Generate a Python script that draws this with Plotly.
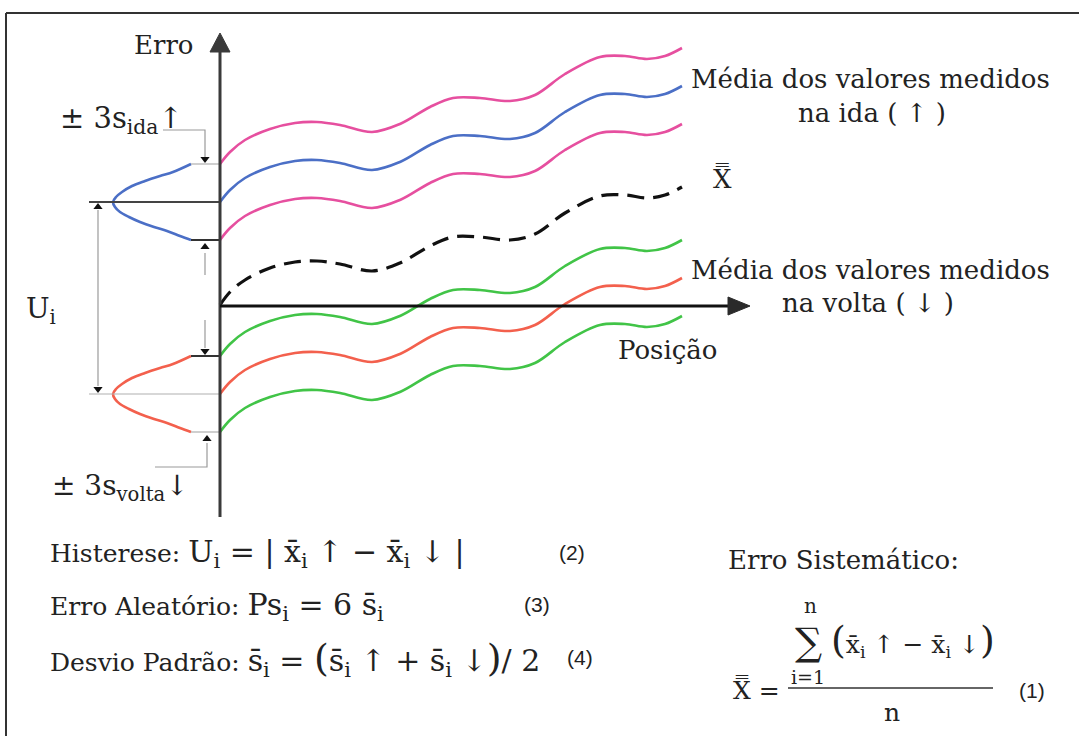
import plotly.graph_objects as go

W, H = 1079, 736
SERIF = "DejaVu Serif"
SANS = "Liberation Sans"
INK = "#222222"
GUIDE = "#9a9a9a"

# --- data: position along the stroke and error of each curve (origin at the axes crossing)
posicao = [0, 10, 25, 50, 75, 97, 120, 152, 180, 210, 233, 260, 290, 315, 345, 380, 405, 427, 445, 462]
ida_sup = [142, 154, 166, 177, 183, 184, 181, 174, 182, 199, 208, 208, 205, 211, 232, 249, 250, 247, 250, 258]
ida_media = [104, 116, 128, 139, 145, 146, 143, 136, 144, 161, 170, 170, 167, 173, 194, 211, 212, 209, 212, 220]
ida_inf = [66, 78, 90, 101, 107, 108, 105, 98, 106, 123, 132, 132, 129, 135, 156, 173, 174, 171, 174, 182]
erro_sist = [1, 14, 26, 38, 44, 45, 42, 35, 43, 60, 69, 69, 66, 72, 93, 110, 111, 108, 111, 119]
volta_sup = [-50, -38, -26, -15, -9, -8, -11, -18, -10, 7, 16, 16, 13, 19, 40, 57, 58, 55, 58, 66]
volta_media = [-88, -76, -64, -53, -47, -46, -49, -56, -48, -31, -22, -22, -25, -19, 2, 19, 20, 17, 20, 28]
volta_inf = [-126, -114, -102, -91, -85, -84, -87, -94, -86, -69, -60, -60, -63, -57, -36, -19, -18, -21, -18, -10]

# dispersion bells drawn sideways to the left of the error axis
sino_x = [-29, -47, -60, -75, -88, -98, -104, -107, -105, -100, -91, -80, -66, -53, -40, -29]
sino_ida_y = [142, 134, 130, 125, 120, 114, 109, 104, 99, 94, 89, 84, 79, 75, 70, 66]
sino_volta_y = [-50, -58, -62, -67, -72, -78, -83, -88, -93, -98, -103, -108, -113, -117, -122, -126]

PINK = "#e64f9f"
BLUE = "#4b6fc6"
GREEN = "#41c447"
RED = "#f3604d"

fig = go.Figure()


def curve(x, y, color, width=2.6, dash=None):
    fig.add_trace(go.Scatter(
        x=x, y=y, mode="lines",
        line=dict(color=color, width=width, shape="spline", smoothing=1.0, dash=dash),
        hoverinfo="skip", showlegend=False))


def segment(x, y, color=GUIDE, width=1.2):
    fig.add_trace(go.Scatter(x=x, y=y, mode="lines", line=dict(color=color, width=width),
                             hoverinfo="skip", showlegend=False))


def head(x, y, symbol):
    fig.add_trace(go.Scatter(x=[x], y=[y], mode="markers",
                             marker=dict(symbol=symbol, size=8, color="#111111"),
                             hoverinfo="skip", showlegend=False))


# measured curves
curve(posicao, ida_sup, PINK)
curve(posicao, ida_media, BLUE)
curve(posicao, ida_inf, PINK)
curve(posicao, erro_sist, "#111111", width=3.2, dash="17px,9px")
curve(posicao, volta_sup, GREEN)
curve(posicao, volta_media, RED)
curve(posicao, volta_inf, GREEN)

# dispersion bells
curve(sino_x, sino_ida_y, BLUE)
curve(sino_x, sino_volta_y, RED)

# reference ticks joining the bells to the axis
segment([-131, 0], [ida_media[0], ida_media[0]], color="#444444", width=2)
segment([sino_x[0], 0], [ida_sup[0], ida_sup[0]], color="#b0b0b0", width=1.2)
segment([sino_x[-1], 0], [ida_inf[0], ida_inf[0]], color="#333333", width=2)
segment([sino_x[0], 0], [volta_sup[0], volta_sup[0]], color="#333333", width=2)
segment([-131, 0], [volta_media[0], volta_media[0]], color="#b0b0b0", width=1.2)
segment([sino_x[-1], 0], [volta_inf[0], volta_inf[0]], color="#b0b0b0", width=1.2)

# leaders for the ±3s labels
segment([-57, -15, -15], [176, 176, 149])
head(-15, 147, "triangle-down")
segment([-15, -15], [53, 31])
head(-15, 59, "triangle-up")
segment([-15, -15], [-14, -42])
head(-15, -45, "triangle-down")
segment([-65, -13, -13], [-161, -161, -137])
head(-13, -133, "triangle-up")

# hysteresis span U_i
segment([-122, -122], [96, -80])
head(-122, 99, "triangle-up")
head(-122, -83, "triangle-down")

shapes = [
    # frame
    dict(type="line", xref="paper", yref="paper", x0=6 / W, x1=1, y0=1 - 13 / H, y1=1 - 13 / H,
         line=dict(color="#333333", width=2)),
    dict(type="line", xref="paper", yref="paper", x0=6 / W, x1=6 / W, y0=0, y1=1 - 13 / H,
         line=dict(color="#333333", width=2)),
    # error axis
    dict(type="line", xref="x", yref="y", x0=0, x1=0, y0=-211, y1=256,
         line=dict(color="#3a3a3a", width=3)),
    dict(type="path", xref="x", yref="y", path="M -10,254 L 10,254 L 0,273 Z",
         fillcolor="#3a3a3a", line=dict(color="#3a3a3a", width=1)),
    # position axis
    dict(type="line", xref="x", yref="y", x0=0, x1=510, y0=0, y1=0,
         line=dict(color="#111111", width=3)),
    dict(type="path", xref="x", yref="y", path="M 508,9 L 508,-9 L 530,0 Z",
         fillcolor="#2a2a2a", line=dict(color="#2a2a2a", width=1)),
    # fraction bar of eq. (1)
    dict(type="line", xref="paper", yref="paper", x0=788 / W, x1=993 / W, y0=1 - 688 / H, y1=1 - 688 / H,
         line=dict(color="#333333", width=1.5)),
]


def note(px, py, text, size=24, family=SERIF, xanchor="center", yanchor="middle"):
    return dict(x=px / W, y=1 - py / H, xref="paper", yref="paper", text=text, showarrow=False,
                font=dict(size=size, family=family, color=INK), xanchor=xanchor, yanchor=yanchor)


XB = "x\u0304"
SB = "s\u0304"
XX = "X\u033f"
MATH = '<span style="font-size:30px">{}</span>'
PAREN = '<span style="font-size:38px">{}</span>'

annotations = [
    note(164, 45, "Erro", 26),
    note(870, 79, "Média dos valores medidos", 26),
    note(872, 113, "na ida ( ↑ )", 26),
    note(722, 178, XX, 26),
    note(870, 270, "Média dos valores medidos", 26),
    note(868, 303, "na volta ( ↓ )", 26),
    note(667, 350, "Posição", 26),
    note(58, 120, "± 3s<sub>ida</sub>↑", 29, xanchor="left"),
    note(24, 310, "U<sub>i</sub>", 28, xanchor="left"),
    note(50, 487, "± 3s<sub>volta</sub>↓", 28, xanchor="left"),
    note(48, 553, "Histerese: " + MATH.format(f"U<sub>i</sub> = | {XB}<sub>i</sub> ↑ − {XB}<sub>i</sub> ↓ |"),
         25, xanchor="left"),
    note(572, 552, "(2)", 21, SANS),
    note(48, 606, "Erro Aleatório: " + MATH.format(f"Ps<sub>i</sub> = 6 {SB}<sub>i</sub>"),
         25, xanchor="left"),
    note(537, 604, "(3)", 21, SANS),
    note(48, 659, "Desvio Padrão: " + MATH.format(
        f"{SB}<sub>i</sub> = " + PAREN.format("(") + f"{SB}<sub>i</sub> ↑ + {SB}<sub>i</sub> ↓"
        + PAREN.format(")") + "/ 2"),
         25, xanchor="left"),
    note(580, 657, "(4)", 21, SANS),
    note(726, 560, "Erro Sistemático:", 26, xanchor="left"),
    note(810, 606, "n", 20),
    note(808, 642, "∑", 38),
    note(913, 640, PAREN.format("(") + f"{XB}<sub>i</sub> ↑ − {XB}<sub>i</sub> ↓" + PAREN.format(")"), 25),
    note(808, 677, "i=1", 19),
    note(756, 690, XX + " =", 25),
    note(1032, 690, "(1)", 21, SANS),
    note(892, 712, "n", 25),
]

fig.update_layout(
    width=W, height=H,
    margin=dict(l=0, r=0, t=0, b=0, pad=0),
    paper_bgcolor="white", plot_bgcolor="white",
    xaxis=dict(range=[-220, W - 220], visible=False, fixedrange=True),
    yaxis=dict(range=[306 - H, 306], visible=False, fixedrange=True),
    shapes=shapes,
    annotations=annotations,
    showlegend=False,
)

fig.write_html("out.html")
